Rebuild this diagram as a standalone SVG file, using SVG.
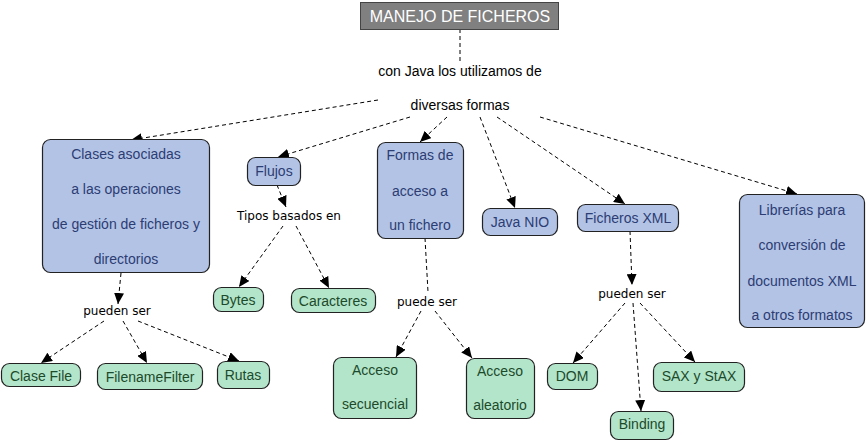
<svg xmlns="http://www.w3.org/2000/svg" width="867" height="441" viewBox="0 0 867 441">
<defs>
<style>
.blue rect{fill:#b3c3e6;stroke:#222;stroke-width:1.2}
.blue text{fill:#2c3d73;font-family:"Liberation Sans",Arial,sans-serif;font-size:14px;text-anchor:middle}
.green rect{fill:#b3e5cb;stroke:#222;stroke-width:1.2}
.green text{fill:#1c4a2a;font-family:"Liberation Sans",Arial,sans-serif;font-size:14px;text-anchor:middle}
.lbl{fill:#000;font-family:"DejaVu Sans",Verdana,sans-serif;font-size:12px;text-anchor:middle}
.lbl2{fill:#000;font-family:"Liberation Sans",Arial,sans-serif;font-size:14px;text-anchor:middle}
#connectors line{stroke:#000;stroke-width:1;stroke-dasharray:4,3;fill:none}
#connectors line.arr{marker-end:url(#ah)}
</style>
<marker id="ah" markerUnits="userSpaceOnUse" markerWidth="12" markerHeight="10" refX="11" refY="5" orient="auto">
<path d="M0,0 L11,5 L0,10 Z" fill="#000"/>
</marker>
</defs>
<rect width="867" height="441" fill="#fff"/>
<g id="connectors">
<line x1="460" y1="29" x2="460" y2="63"/>
<line class="arr" x1="378" y1="100" x2="131" y2="140"/>
<line class="arr" x1="410" y1="117" x2="278" y2="157"/>
<line class="arr" x1="447" y1="117" x2="420" y2="142"/>
<line class="arr" x1="480" y1="117" x2="515" y2="208"/>
<line class="arr" x1="497" y1="117" x2="625" y2="204"/>
<line class="arr" x1="540" y1="117" x2="797" y2="194"/>
<line class="arr" x1="121" y1="273" x2="118" y2="304"/>
<line class="arr" x1="104" y1="321" x2="41" y2="363"/>
<line class="arr" x1="123" y1="321" x2="147" y2="363"/>
<line class="arr" x1="138" y1="321" x2="239" y2="361"/>
<line class="arr" x1="277" y1="185" x2="286" y2="207"/>
<line class="arr" x1="283" y1="226" x2="239" y2="287"/>
<line class="arr" x1="296" y1="226" x2="329" y2="288"/>
<line x1="425" y1="238" x2="428" y2="292"/>
<line class="arr" x1="421" y1="311" x2="396" y2="357"/>
<line class="arr" x1="435" y1="311" x2="472" y2="358"/>
<line class="arr" x1="630" y1="231" x2="632" y2="285"/>
<line class="arr" x1="625" y1="303" x2="573" y2="363"/>
<line class="arr" x1="633" y1="303" x2="641" y2="411"/>
<line class="arr" x1="640" y1="303" x2="695" y2="362"/>
</g>
<g id="title">
<rect x="360.5" y="2.5" width="198" height="27" fill="#808080" stroke="#444" stroke-width="1"/>
<text x="460" y="21.5" fill="#fff" font-family="Liberation Sans, Arial, sans-serif" font-size="16" text-anchor="middle">MANEJO DE FICHEROS</text>
</g>
<g id="lbl-java">
<text class="lbl2" x="460" y="76">con Java los utilizamos de</text>
<text class="lbl2" x="460" y="110">diversas formas</text>
</g>
<g id="clases" class="blue">
<rect x="42.5" y="139.5" width="167" height="133" rx="8"/>
<text x="126" y="159">Clases asociadas</text>
<text x="126" y="194">a las operaciones</text>
<text x="126" y="229">de gestión de ficheros y</text>
<text x="126" y="264">directorios</text>
</g>
<g id="flujos" class="blue">
<rect x="247.5" y="157.5" width="53" height="28" rx="8"/>
<text x="274" y="176">Flujos</text>
</g>
<g id="formas" class="blue">
<rect x="377.5" y="142.5" width="86" height="96" rx="8"/>
<text x="420" y="160">Formas de</text>
<text x="420" y="196">acceso a</text>
<text x="420" y="230">un fichero</text>
</g>
<g id="nio" class="blue">
<rect x="482.5" y="208.5" width="75" height="27" rx="8"/>
<text x="520" y="227">Java NIO</text>
</g>
<g id="xml" class="blue">
<rect x="577.5" y="204.5" width="101" height="27" rx="8"/>
<text x="628" y="223">Ficheros XML</text>
</g>
<g id="librerias" class="blue">
<rect x="739.5" y="194.5" width="125" height="133" rx="8"/>
<text x="802" y="215">Librerías para</text>
<text x="802" y="250">conversión de</text>
<text x="802" y="286">documentos XML</text>
<text x="802" y="320">a otros formatos</text>
</g>
<g id="lbl-pueden1"><text class="lbl" x="117" y="315">pueden ser</text></g>
<g id="lbl-tipos"><text class="lbl" x="289" y="220">Tipos basados en</text></g>
<g id="lbl-puede"><text class="lbl" x="427" y="306">puede ser</text></g>
<g id="lbl-pueden2"><text class="lbl" x="632" y="298">pueden ser</text></g>
<g id="clasefile" class="green">
<rect x="1.5" y="363.5" width="79" height="23" rx="8"/>
<text x="41" y="381">Clase File</text>
</g>
<g id="filenamefilter" class="green">
<rect x="97.5" y="363.5" width="105" height="26" rx="8"/>
<text x="150" y="382">FilenameFilter</text>
</g>
<g id="rutas" class="green">
<rect x="217.5" y="361.5" width="52" height="27" rx="8"/>
<text x="243" y="380">Rutas</text>
</g>
<g id="bytes" class="green">
<rect x="213.5" y="287.5" width="50" height="24" rx="8"/>
<text x="238" y="305">Bytes</text>
</g>
<g id="caracteres" class="green">
<rect x="291.5" y="288.5" width="84" height="24" rx="8"/>
<text x="333" y="306">Caracteres</text>
</g>
<g id="secuencial" class="green">
<rect x="333.5" y="357.5" width="83" height="61" rx="8"/>
<text x="375" y="375">Acceso</text>
<text x="375" y="409">secuencial</text>
</g>
<g id="aleatorio" class="green">
<rect x="466.5" y="358.5" width="68" height="60" rx="8"/>
<text x="500" y="376">Acceso</text>
<text x="500" y="410">aleatorio</text>
</g>
<g id="dom" class="green">
<rect x="547.5" y="363.5" width="50" height="26" rx="8"/>
<text x="572" y="381">DOM</text>
</g>
<g id="sax" class="green">
<rect x="653.5" y="362.5" width="91" height="29" rx="8"/>
<text x="699" y="381">SAX y StAX</text>
</g>
<g id="binding" class="green">
<rect x="610.5" y="411.5" width="63" height="28" rx="8"/>
<text x="642" y="429">Binding</text>
</g>
</svg>
